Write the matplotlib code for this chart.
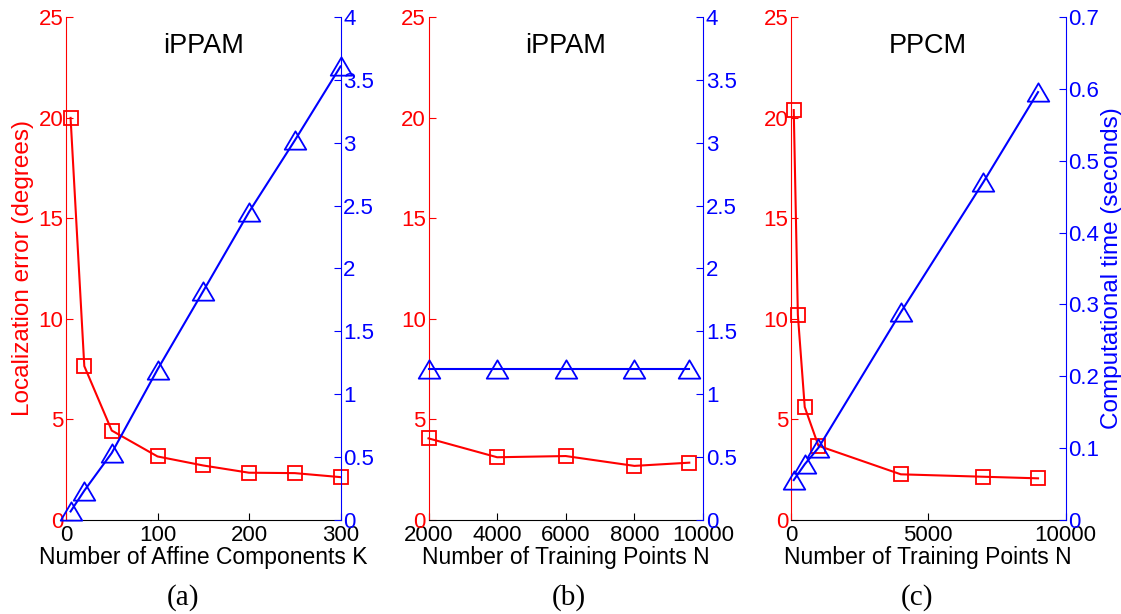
import matplotlib
matplotlib.use("Agg")
import matplotlib.pyplot as plt
from matplotlib.path import Path
from matplotlib.ticker import FuncFormatter

plt.rcParams['font.family'] = ['Liberation Sans', 'DejaVu Sans']

# panel (a): iPPAM vs number of affine components
k_vals = [5, 20, 50, 100, 150, 200, 250, 300]
a_err = [20.0, 7.64, 4.43, 3.14, 2.69, 2.33, 2.31, 2.11]
a_time = [0.064, 0.23, 0.53, 1.195, 1.82, 2.45, 3.02, 3.61]

# panel (b): iPPAM vs number of training points
b_n = [2000, 4000, 6000, 8000, 9600]
b_err = [4.04, 3.10, 3.16, 2.67, 2.83]
b_time = [1.2, 1.2, 1.2, 1.2, 1.2]

# panel (c): PPCM vs number of training points
c_n_err = [100, 250, 500, 1000, 4000, 7000, 9000]
c_err = [20.39, 10.19, 5.6, 3.67, 2.25, 2.13, 2.05]
c_n_time = [100, 500, 1000, 4000, 7000, 9000]
c_time = [0.055, 0.077, 0.100, 0.289, 0.470, 0.596]

titles = ["iPPAM", "iPPAM", "PPCM"]
xlabels = ["Number of Affine Components K",
           "Number of Training Points N",
           "Number of Training Points N"]
captions = ["(a)", "(b)", "(c)"]

# matlab style triangle, wider than tall
tri = Path([(0, 0.85), (-1, -0.85), (1, -0.85), (0, 0.85)],
           [Path.MOVETO, Path.LINETO, Path.LINETO, Path.CLOSEPOLY])

fs = 16
fmt = FuncFormatter(lambda v, p: f"{v:g}")

fig = plt.figure(figsize=(11.21, 6.14), dpi=100)
W, H = 1121, 614
lefts = [66, 428.5, 791]
cap_x = [183, 569, 917]
panels = [
    (k_vals, a_err, k_vals, a_time, (0, 300), [0, 100, 200, 300], 4, 0.5),
    (b_n, b_err, b_n, b_time, (2000, 10000), [2000, 4000, 6000, 8000, 10000], 4, 0.5),
    (c_n_err, c_err, c_n_time, c_time, (0, 10000), [0, 5000, 10000], 0.7, 0.1),
]

for i, (xe, ye, xt, yt, xlim, xticks, tmax, tstep) in enumerate(panels):
    l = lefts[i]
    ax = fig.add_axes([l / W, (H - 519.5) / H, 274.5 / W, 502 / H])
    ax2 = ax.twinx()

    ax.plot(xe, ye, color='red', lw=1.5, marker='s', ms=10.5,
            mfc='none', mec='red', mew=1.3, clip_on=False)
    ax2.plot(xt, yt, color='blue', lw=1.5, marker=tri, ms=15.5,
             mfc='none', mec='blue', mew=1.3, clip_on=False)

    ax.set_xlim(*xlim)
    ax.set_xticks(xticks)
    ax.set_ylim(0, 25)
    ax.set_yticks([0, 5, 10, 15, 20, 25])
    ax2.set_ylim(0, tmax)
    n = int(round(tmax / tstep))
    ax2.set_yticks([j * tstep for j in range(n + 1)])
    ax.yaxis.set_major_formatter(fmt)
    ax2.yaxis.set_major_formatter(fmt)

    ax.spines['top'].set_visible(False)
    ax.spines['right'].set_visible(False)
    ax.spines['left'].set_color('red')
    ax2.spines['top'].set_visible(False)
    ax2.spines['left'].set_visible(False)
    ax2.spines['bottom'].set_visible(False)
    ax2.spines['right'].set_color('blue')

    ax.tick_params(axis='x', direction='in', length=5, pad=4, labelsize=fs)
    ax.tick_params(axis='y', direction='in', length=5, pad=2, labelsize=fs,
                   colors='red')
    ax2.tick_params(axis='y', direction='in', length=5, pad=2, labelsize=fs,
                    colors='blue')

    ax.set_xlabel(xlabels[i], fontsize=16.5, labelpad=0)
    ax.text(0.5, 0.944, titles[i], transform=ax.transAxes, ha='center',
            va='center', fontsize=19.5)
    fig.text(cap_x[i] / W, 16 / H, captions[i], ha='center', va='center',
             fontsize=21, family=['Liberation Serif', 'DejaVu Serif'])

    if i == 0:
        ax.set_ylabel("Localization error (degrees)", color='red',
                      fontsize=17.5, labelpad=3)
    if i == 2:
        ax2.set_ylabel("Computational time (seconds)", color='blue',
                       fontsize=17.5, labelpad=1)

fig.savefig("out.png", dpi=100)
